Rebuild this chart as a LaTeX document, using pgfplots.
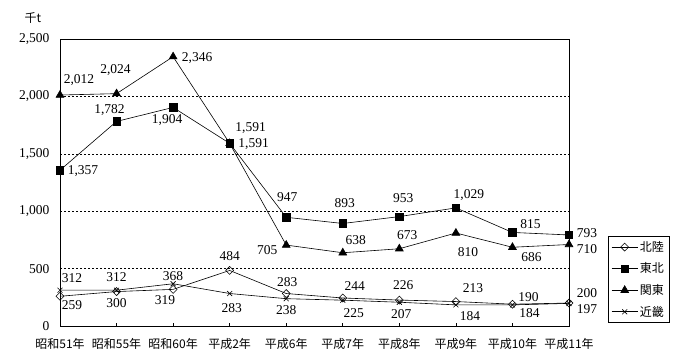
\documentclass[border=0pt]{standalone}
\usepackage{pgfplots}
\pgfplotsset{compat=1.18}
\usepackage{fontspec}
\setmainfont{Liberation Serif}
\newfontfamily\cjk{Noto Sans CJK JP}
\newcommand{\nf}{\fontsize{13.5}{15}\selectfont}
\newcommand{\lb}[5]{\node[inner sep=0pt,font=\nf] at (axis cs:#1,#2) [xshift=#3pt,yshift=#4pt] {#5};}
\begin{document}
\begin{tikzpicture}
\path[use as bounding box] (-60pt,-34pt) rectangle (640pt,326pt);
\begin{axis}[
  at={(0pt,0pt)}, anchor=south west,
  width=509pt, height=287pt, scale only axis,
  clip=false,
  xmin=0, xmax=9, ymin=0, ymax=2500,
  xtick={0,...,9},
  xticklabels={昭和51年,昭和55年,昭和60年,平成2年,平成6年,平成7年,平成8年,平成9年,平成10年,平成11年},
  xticklabel style={font=\cjk\fontsize{12}{13}\selectfont, yshift=-9pt},
  ytick={0,500,...,2500},
  yticklabel style={font=\nf, xshift=-7pt},
  /pgf/number format/assume math mode=true,
  /pgf/number format/1000 sep={,},
  ymajorgrids,
  grid style={black, dash pattern=on 2pt off 2pt, line width=0.6pt},
  axis line style={black, line width=0.8pt},
  xtick pos=bottom, tick align=inside,
  major tick length=3pt,
  x tick style={black, line width=0.6pt},
  y tick style={draw=none},
  legend style={at={(1.0766,0.0105)}, anchor=south west, draw=black, line width=0.8pt,
    font=\cjk\fontsize{12}{13}\selectfont, inner sep=3pt, row sep=6pt, cells={anchor=west}},
  legend image code/.code={\draw[mark repeat=2,mark phase=2,#1] plot coordinates {(0pt,0pt) (13pt,0pt) (26pt,0pt)};},
  every axis plot/.append style={black, line width=0.6pt},
]
\addplot[mark=square, mark size=2.8pt, mark options={rotate=45, fill=white, line width=0.6pt}] coordinates {
 (0,259) (1,300) (2,319) (3,484) (4,283) (5,244) (6,226) (7,213) (8,190) (9,200)};
\addlegendentry{北陸}
\addplot[mark=square*, mark size=3.7pt, mark options={fill=black}] coordinates {
 (0,1357) (1,1782) (2,1904) (3,1591) (4,947) (5,893) (6,953) (7,1029) (8,815) (9,793)};
\addlegendentry{東北}
\addplot[mark=triangle*, mark size=4.5pt, mark options={fill=black}] coordinates {
 (0,2012) (1,2024) (2,2346) (3,1591) (4,705) (5,638) (6,673) (7,810) (8,686) (9,710)};
\addlegendentry{関東}
\addplot[mark=x, mark size=3.5pt] coordinates {
 (0,312) (1,312) (2,368) (3,283) (4,238) (5,225) (6,207) (7,184) (8,184) (9,197)};
\addlegendentry{近畿}
% 関東
\lb{0}{2012}{19}{15}{2,012}
\lb{1}{2024}{-1}{24}{2,024}
\lb{2}{2346}{24}{-1}{2,346}
\lb{3}{1591}{21}{15}{1,591}
\lb{4}{705}{-19}{-5}{705}
\lb{5}{638}{13}{13}{638}
\lb{6}{673}{8}{14}{673}
\lb{7}{810}{12}{-19}{810}
\lb{8}{686}{19}{-10}{686}
\lb{9}{710}{18}{-5}{710}
% 東北
\lb{0}{1357}{23}{-1}{1,357}
\lb{1}{1782}{-7}{11.5}{1,782}
\lb{2}{1904}{-6}{-13}{1,904}
\lb{3}{1591}{24}{-1}{1,591}
\lb{4}{947}{1}{20}{947}
\lb{5}{893}{2}{20}{893}
\lb{6}{953}{4}{19}{953}
\lb{7}{1029}{13}{13}{1,029}
\lb{8}{815}{18}{8}{815}
\lb{9}{793}{18}{2}{793}
% 北陸
\lb{0}{259}{12}{-9}{259}
\lb{1}{300}{0}{-12}{300}
\lb{2}{319}{-8}{-11}{319}
\lb{3}{484}{0}{14}{484}
\lb{4}{283}{1}{11.5}{283}
\lb{5}{244}{12}{12}{244}
\lb{6}{226}{4}{15}{226}
\lb{7}{213}{17}{13.5}{213}
\lb{8}{190}{16}{7}{190}
\lb{9}{200}{18}{10}{200}
% 近畿
\lb{0}{312}{12}{12}{312}
\lb{1}{312}{0}{13}{312}
\lb{2}{368}{0}{8}{368}
\lb{3}{283}{2}{-14.5}{283}
\lb{4}{238}{0}{-11}{238}
\lb{5}{225}{11}{-13}{225}
\lb{6}{207}{2}{-12}{207}
\lb{7}{184}{14}{-11}{184}
\lb{8}{184}{17}{-8}{184}
\lb{9}{197}{18}{-5.5}{197}
\node[font=\cjk\fontsize{12}{14}\selectfont, inner sep=0pt] at (axis description cs:0,1) [xshift=-27pt, yshift=21pt] {千t};
\end{axis}
\end{tikzpicture}
\end{document}
